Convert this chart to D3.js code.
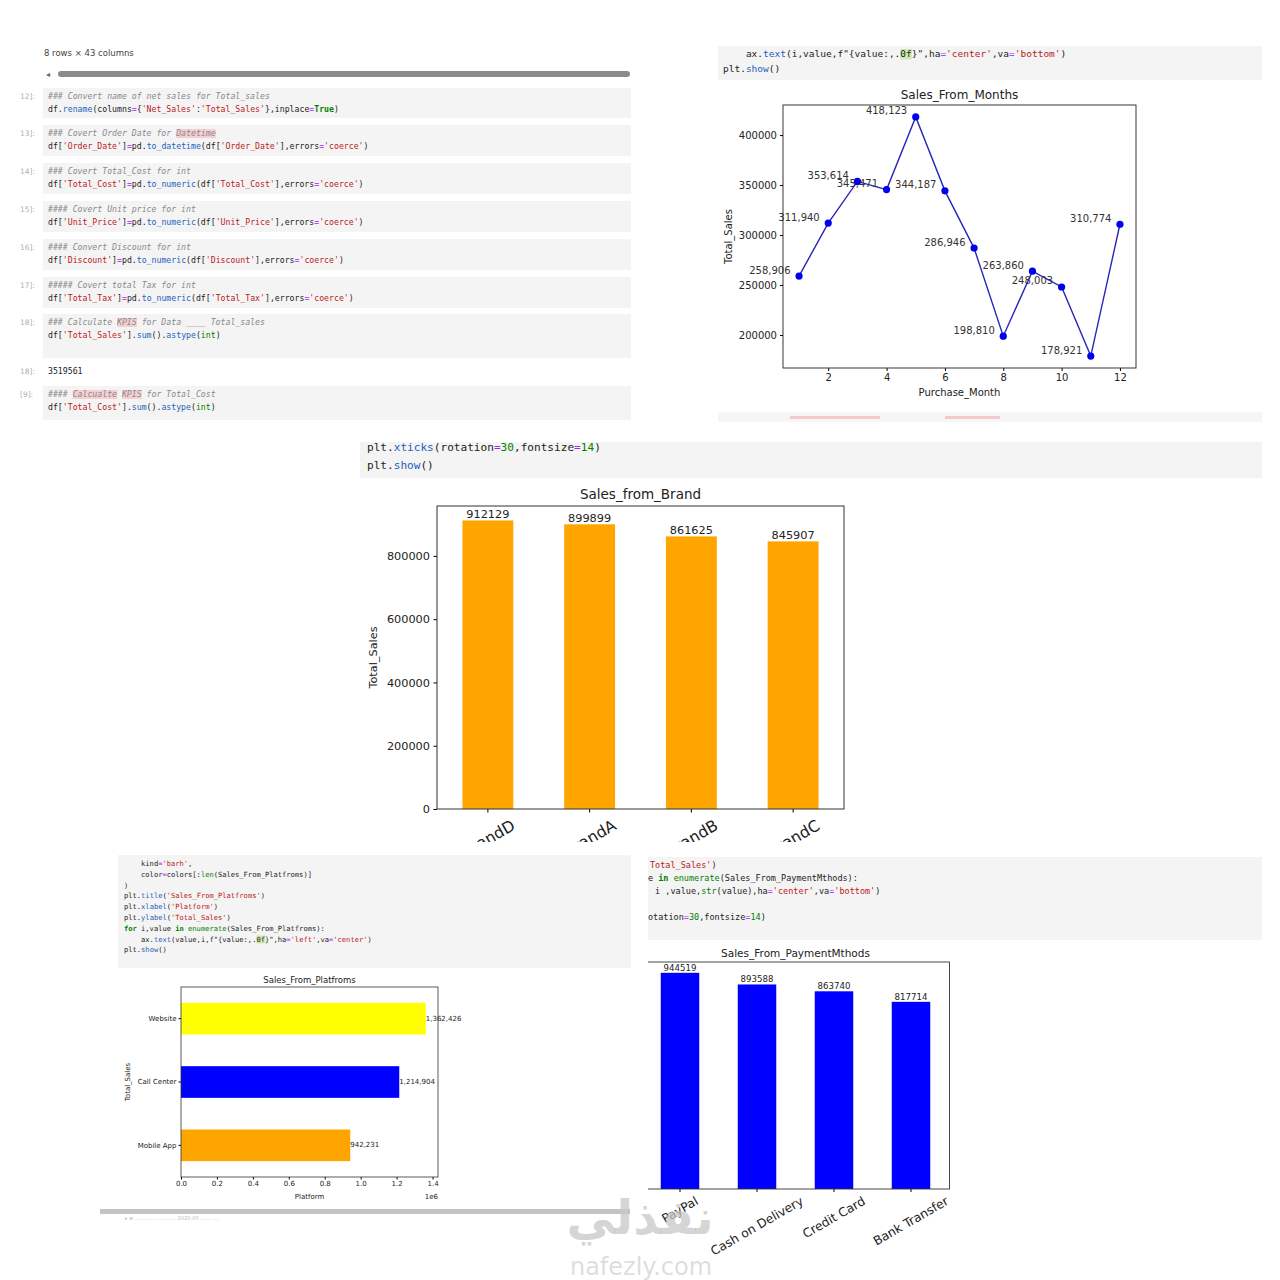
<!DOCTYPE html>
<html>
<head>
<meta charset="utf-8">
<script src="https://cdn.jsdelivr.net/npm/d3@7"></script>
<style>
body { margin: 0; background: #fff; }
text { font-family: "DejaVu Sans", sans-serif; fill: #222; }
.code { font-family: "DejaVu Sans Mono", monospace; white-space: pre; }
</style>
</head>
<body>
<svg width="1280" height="1280"></svg>
<script>
// ---- data ----
const months = [1, 2, 3, 4, 5, 6, 7, 8, 9, 10, 11, 12];
const monthSales = [258906, 311940, 353614, 345471, 418123, 344187, 286946, 198810, 263860, 248003, 178921, 310774];
const monthTicksX = [2, 4, 6, 8, 10, 12];
const monthTicksY = [200000, 250000, 300000, 350000, 400000];

const brands = ['BrandD', 'BrandA', 'BrandB', 'BrandC'];
const brandSales = [912129, 899899, 861625, 845907];
const brandTicksY = [0, 200000, 400000, 600000, 800000];

const platforms = ['Mobile App', 'Call Center', 'Website'];
const platformSales = [942231, 1214904, 1362426];
const platformColors = ['orange', 'blue', 'yellow'];
const platformTicksX = [0, 200000, 400000, 600000, 800000, 1000000, 1200000, 1400000];

const payments = ['PayPal', 'Cash on Delivery', 'Credit Card', 'Bank Transfer'];
const paymentSales = [944519, 893588, 863740, 817714];

const notebookCells = [
    {n: '12]:', y: 88, h: 30, lines: ["### Convert name of net sales for Total_sales", "df.rename(columns={'Net_Sales':'Total_Sales'},inplace=True)"]},
    {n: '13]:', y: 125, h: 31, lines: ["### Covert Order Date for Datetime", "df['Order_Date']=pd.to_datetime(df['Order_Date'],errors='coerce')"], marks: ['Datetime']},
    {n: '14]:', y: 163, h: 31, lines: ["### Covert Total_Cost for int", "df['Total_Cost']=pd.to_numeric(df['Total_Cost'],errors='coerce')"]},
    {n: '15]:', y: 201, h: 31, lines: ["#### Covert Unit price for int", "df['Unit_Price']=pd.to_numeric(df['Unit_Price'],errors='coerce')"]},
    {n: '16]:', y: 239, h: 31, lines: ["#### Convert Discount for int", "df['Discount']=pd.to_numeric(df['Discount'],errors='coerce')"]},
    {n: '17]:', y: 277, h: 31, lines: ["##### Covert total Tax for int", "df['Total_Tax']=pd.to_numeric(df['Total_Tax'],errors='coerce')"]},
    {n: '18]:', y: 314, h: 44, lines: ["### Calculate KPIS for Data ____ Total_sales", "df['Total_Sales'].sum().astype(int)"], marks: ['KPIS']},
    {n: '[9]:', y: 386, h: 34, lines: ["#### Calcualte KPIS for Total_Cost", "df['Total_Cost'].sum().astype(int)"], marks: ['Calcualte', 'KPIS']}
];

const svg = d3.select('svg');
const fmtComma = d3.format(',.0f');

const tokenColors = {plain: '#222', com: '#8a8a8a', str: '#ba2121', kw: '#008000', bi: '#008000', fn: '#1f5fbf', op: '#aa22ff', num: '#008000'};

function tokenize(line) {
    const out = [];
    const re = /(#.*$)|('[^']*')|\b(True|False|for|in)\b|\b(int|str|len|enumerate)\b|(?<=\.)([A-Za-z_]\w*)(?=\()|(=)|\b(\d+)\b/g;
    let last = 0, m;
    while ((m = re.exec(line))) {
        if (m.index > last) out.push([line.slice(last, m.index), 'plain']);
        const kind = m[1] ? 'com' : m[2] ? 'str' : m[3] ? 'kw' : m[4] ? 'bi' : m[5] ? 'fn' : m[6] ? 'op' : 'num';
        out.push([m[0], kind]);
        last = re.lastIndex;
    }
    if (last < line.length) out.push([line.slice(last), 'plain']);
    return out;
}

function codeLine(g, x, y, line, fs, marks) {
    const cw = fs * 0.602;
    (marks || []).forEach(mk => {
        const idx = line.indexOf(mk.word || mk);
        if (idx < 0) return;
        g.append('rect')
            .attr('x', x + idx * cw).attr('y', y - fs * 0.85)
            .attr('width', (mk.word || mk).length * cw).attr('height', fs * 1.1)
            .attr('fill', mk.color || '#f6cfd2');
    });
    const t = g.append('text').classed('code', true)
        .attr('x', x).attr('y', y).attr('font-size', fs);
    const toks = Array.isArray(line) ? line : tokenize(line);
    toks.forEach(([s, k]) => {
        t.append('tspan').text(s)
            .style('fill', tokenColors[k])
            .attr('font-style', k === 'com' ? 'italic' : null)
            .attr('font-weight', k === 'kw' ? 'bold' : null);
    });
}

// ---- top-left notebook ----
const nb = svg.append('g');
nb.append('text').attr('x', 44).attr('y', 56).attr('font-size', 8.5).style('fill', '#444').text('8 rows × 43 columns');
nb.append('text').attr('x', 46).attr('y', 77).attr('font-size', 8).style('fill', '#666').text('◂');
nb.append('rect').attr('x', 58).attr('y', 71).attr('width', 572).attr('height', 6).attr('rx', 3).attr('fill', '#8c8c8c');

notebookCells.forEach(c => {
    nb.append('rect').attr('x', 43).attr('y', c.y).attr('width', 588).attr('height', c.h).attr('fill', '#f4f4f4');
    nb.append('text').attr('x', 20).attr('y', c.y + 11).attr('font-size', 7.5).style('fill', '#b0b0b0').text(c.n);
    c.lines.forEach((l, i) => codeLine(nb, 48, c.y + 11 + i * 12.5, l, 8.2, i === 0 ? c.marks : null));
});
nb.append('text').attr('x', 20).attr('y', 374).attr('font-size', 7.5).style('fill', '#b0b0b0').text('18]:');
nb.append('text').classed('code', true).attr('x', 48).attr('y', 374).attr('font-size', 8.2).text('3519561');

// ---- top-right: Sales_From_Months ----
const lc = svg.append('g');
lc.append('rect').attr('x', 718).attr('y', 46).attr('width', 544).attr('height', 34).attr('fill', '#f4f4f4');
codeLine(lc, 723, 57, "    ax.text(i,value,f\"{value:,.0f}\",ha='center',va='bottom')", 9.5, [{word: '0f', color: '#cfe8b0'}]);
codeLine(lc, 723, 72, "plt.show()", 9.5);
lc.append('rect').attr('x', 718).attr('y', 412).attr('width', 544).attr('height', 10).attr('fill', '#f6f6f6');
lc.append('rect').attr('x', 790).attr('y', 416).attr('width', 90).attr('height', 3).attr('fill', '#f3c9cc');
lc.append('rect').attr('x', 945).attr('y', 416).attr('width', 55).attr('height', 3).attr('fill', '#f3c9cc');

const lcBox = {l: 783, r: 1136, t: 105, b: 368};
const mPad = (d3.max(monthSales) - d3.min(monthSales)) * 0.05;
const xM = d3.scaleLinear().domain([1 - 0.55, 12 + 0.55]).range([lcBox.l, lcBox.r]);
const yM = d3.scaleLinear().domain([d3.min(monthSales) - mPad, d3.max(monthSales) + mPad]).range([lcBox.b, lcBox.t]);

lc.append('g').attr('transform', `translate(0,${lcBox.b})`)
    .call(d3.axisBottom(xM).tickValues(monthTicksX).tickSize(3).tickPadding(3))
    .call(g => g.select('.domain').remove())
    .attr('font-family', 'DejaVu Sans').attr('font-size', 10);
lc.append('g').attr('transform', `translate(${lcBox.l},0)`)
    .call(d3.axisLeft(yM).tickValues(monthTicksY).tickSize(3).tickPadding(3).tickFormat(d => d))
    .call(g => g.select('.domain').remove())
    .attr('font-family', 'DejaVu Sans').attr('font-size', 10);

lc.append('path').datum(months)
    .attr('fill', 'none').attr('stroke', '#2626b8').attr('stroke-width', 1.4)
    .attr('d', d3.line().x(d => xM(d)).y((d, i) => yM(monthSales[i])));
lc.selectAll('circle.pt').data(months).join('circle').attr('class', 'pt')
    .attr('cx', d => xM(d)).attr('cy', (d, i) => yM(monthSales[i])).attr('r', 3.6).attr('fill', '#0000ee');
// labels sit at the 0-based index, as in the notebook
lc.selectAll('text.val').data(monthSales).join('text').attr('class', 'val')
    .attr('x', (d, i) => xM(i)).attr('y', d => yM(d) - 2.5)
    .attr('text-anchor', 'middle').attr('font-size', 10).style('fill', '#333')
    .text(d => fmtComma(d));
lc.append('rect').attr('x', lcBox.l).attr('y', lcBox.t).attr('width', lcBox.r - lcBox.l).attr('height', lcBox.b - lcBox.t)
    .attr('fill', 'none').attr('stroke', '#222').attr('stroke-width', 0.9);
lc.append('text').attr('x', (lcBox.l + lcBox.r) / 2).attr('y', 99).attr('text-anchor', 'middle').attr('font-size', 12).text('Sales_From_Months');
lc.append('text').attr('x', (lcBox.l + lcBox.r) / 2).attr('y', 396).attr('text-anchor', 'middle').attr('font-size', 10).text('Purchase_Month');
lc.append('text').attr('transform', `translate(732,${(lcBox.t + lcBox.b) / 2}) rotate(-90)`).attr('text-anchor', 'middle').attr('font-size', 10).text('Total_Sales');

// rotated tick labels, matplotlib style (rotation 30, centred box)
function rotLabels(g, scale, cats, y0, fs) {
    cats.forEach(c => {
        const t = g.append('text').text(c).attr('font-size', fs)
            .attr('text-anchor', 'middle').attr('dominant-baseline', 'central');
        const w = t.node().getComputedTextLength();
        const bh = w * 0.5 + fs * 1.15 * 0.866;
        const cx = scale(c) + scale.bandwidth() / 2;
        t.attr('transform', `translate(${cx},${y0 + bh / 2}) rotate(-30)`);
    });
}

// ---- middle: Sales_from_Brand ----
const defs = svg.append('defs');
defs.append('clipPath').attr('id', 'clipBrand').append('rect').attr('x', 355).attr('y', 442).attr('width', 910).attr('height', 400);
defs.append('clipPath').attr('id', 'clipPay').append('rect').attr('x', 648).attr('y', 855).attr('width', 617).attr('height', 420);

const bc = svg.append('g').attr('clip-path', 'url(#clipBrand)');
bc.append('rect').attr('x', 360).attr('y', 441).attr('width', 902).attr('height', 37).attr('fill', '#f4f4f4');
codeLine(bc, 367, 451, "plt.xticks(rotation=30,fontsize=14)", 11.1);
codeLine(bc, 367, 469, "plt.show()", 11.1);

const bcBox = {l: 437, r: 844, t: 506, b: 809};
const xB = d3.scaleBand().domain(brands).range([bcBox.l, bcBox.r]).paddingInner(0.5).paddingOuter(0.25);
const yB = d3.scaleLinear().domain([0, d3.max(brandSales) * 1.05]).range([bcBox.b, bcBox.t]);

bc.selectAll('rect.bar').data(brands).join('rect').attr('class', 'bar')
    .attr('x', d => xB(d)).attr('width', xB.bandwidth())
    .attr('y', (d, i) => yB(brandSales[i])).attr('height', (d, i) => bcBox.b - yB(brandSales[i]))
    .attr('fill', 'orange');
bc.selectAll('text.val').data(brandSales).join('text').attr('class', 'val')
    .attr('x', (d, i) => xB(brands[i]) + xB.bandwidth() / 2).attr('y', d => yB(d) - 2.5)
    .attr('text-anchor', 'middle').attr('font-size', 11.3).text(d => d);
bc.append('g').attr('transform', `translate(${bcBox.l},0)`)
    .call(d3.axisLeft(yB).tickValues(brandTicksY).tickSize(3.5).tickPadding(3.5).tickFormat(d => d))
    .call(g => g.select('.domain').remove())
    .attr('font-family', 'DejaVu Sans').attr('font-size', 11.3);
bc.append('g').attr('transform', `translate(0,${bcBox.b})`)
    .call(d3.axisBottom(xB).tickSize(3.5).tickFormat(''))
    .call(g => g.select('.domain').remove());
rotLabels(bc, xB, brands, bcBox.b + 7, 15.8);
bc.append('rect').attr('x', bcBox.l).attr('y', bcBox.t).attr('width', bcBox.r - bcBox.l).attr('height', bcBox.b - bcBox.t)
    .attr('fill', 'none').attr('stroke', '#333').attr('stroke-width', 1);
bc.append('text').attr('x', (bcBox.l + bcBox.r) / 2).attr('y', 499).attr('text-anchor', 'middle').attr('font-size', 13.5).text('Sales_from_Brand');
bc.append('text').attr('transform', `translate(377,${(bcBox.t + bcBox.b) / 2}) rotate(-90)`).attr('text-anchor', 'middle').attr('font-size', 11.3).text('Total_Sales');

// ---- bottom-left: Sales_From_Platfroms ----
const pc = svg.append('g');
pc.append('rect').attr('x', 118).attr('y', 855).attr('width', 513).attr('height', 113).attr('fill', '#f4f4f4');
const platCode = [
    "    kind='barh',",
    "    color=colors[:len(Sales_From_Platfroms)]",
    ")",
    "plt.title('Sales_From_Platfroms')",
    "plt.xlabel('Platform')",
    "plt.ylabel('Total_Sales')",
    "for i,value in enumerate(Sales_From_Platfroms):",
    "    ax.text(value,i,f\"{value:,.0f}\",ha='left',va='center')",
    "plt.show()"
];
platCode.forEach((l, i) => codeLine(pc, 124, 866 + i * 10.8, l, 7.1, i === 7 ? [{word: '0f', color: '#cfe8b0'}] : null));

const pcBox = {l: 181, r: 438, t: 987, b: 1177};
const yP = d3.scaleBand().domain(platforms).range([pcBox.b, pcBox.t]).paddingInner(0.5).paddingOuter(0.25);
const xP = d3.scaleLinear().domain([0, d3.max(platformSales) * 1.05]).range([pcBox.l, pcBox.r]);

pc.selectAll('rect.bar').data(platforms).join('rect').attr('class', 'bar')
    .attr('y', d => yP(d)).attr('height', yP.bandwidth())
    .attr('x', pcBox.l).attr('width', (d, i) => xP(platformSales[i]) - pcBox.l)
    .attr('fill', (d, i) => platformColors[i]);
pc.selectAll('text.val').data(platformSales).join('text').attr('class', 'val')
    .attr('x', d => xP(d)).attr('y', (d, i) => yP(platforms[i]) + yP.bandwidth() / 2)
    .attr('dominant-baseline', 'central').attr('font-size', 7).text(d => fmtComma(d));
pc.append('g').attr('transform', `translate(0,${pcBox.b})`)
    .call(d3.axisBottom(xP).tickValues(platformTicksX).tickSize(2.5).tickPadding(2).tickFormat(d => d3.format('.1f')(d / 1e6)))
    .call(g => g.select('.domain').remove())
    .attr('font-family', 'DejaVu Sans').attr('font-size', 7);
pc.append('g').attr('transform', `translate(${pcBox.l},0)`)
    .call(d3.axisLeft(yP).tickSize(2.5).tickPadding(2))
    .call(g => g.select('.domain').remove())
    .attr('font-family', 'DejaVu Sans').attr('font-size', 7);
pc.append('rect').attr('x', pcBox.l).attr('y', pcBox.t).attr('width', pcBox.r - pcBox.l).attr('height', pcBox.b - pcBox.t)
    .attr('fill', 'none').attr('stroke', '#333').attr('stroke-width', 0.8);
pc.append('text').attr('x', (pcBox.l + pcBox.r) / 2).attr('y', 983).attr('text-anchor', 'middle').attr('font-size', 8.5).text('Sales_From_Platfroms');
pc.append('text').attr('x', (pcBox.l + pcBox.r) / 2).attr('y', 1199).attr('text-anchor', 'middle').attr('font-size', 7).text('Platform');
pc.append('text').attr('x', pcBox.r).attr('y', 1199).attr('text-anchor', 'end').attr('font-size', 7).text('1e6');
pc.append('text').attr('transform', `translate(130,${(pcBox.t + pcBox.b) / 2}) rotate(-90)`).attr('text-anchor', 'middle').attr('font-size', 7).text('Total_Sales');
pc.append('rect').attr('x', 100).attr('y', 1209).attr('width', 530).attr('height', 5).attr('fill', '#c4c4c4');
pc.append('text').attr('x', 125).attr('y', 1220).attr('font-size', 5).style('fill', '#bbb').text('▸  ⊕       ...............   ..........  2025-05  .......  ....');

// ---- bottom-right: Sales_From_PaymentMthods ----
const qc = svg.append('g').attr('clip-path', 'url(#clipPay)');
qc.append('rect').attr('x', 648).attr('y', 857).attr('width', 614).attr('height', 83).attr('fill', '#f4f4f4');
codeLine(qc, 650, 868, [["Total_Sales'", 'str'], [")", 'plain']], 8.5);
codeLine(qc, 648, 881, "e in enumerate(Sales_From_PaymentMthods):", 8.5);
codeLine(qc, 650, 894, " i ,value,str(value),ha='center',va='bottom')", 8.5);
codeLine(qc, 648, 920, [["otation", 'plain'], ["=", 'op'], ["30", 'num'], [",fontsize", 'plain'], ["=", 'op'], ["14", 'num'], [")", 'plain']], 8.5);

const qcBox = {l: 641.5, r: 949.5, t: 962, b: 1189};
const xQ = d3.scaleBand().domain(payments).range([qcBox.l, qcBox.r]).paddingInner(0.5).paddingOuter(0.25);
const yQ = d3.scaleLinear().domain([0, d3.max(paymentSales) * 1.05]).range([qcBox.b, qcBox.t]);

qc.selectAll('rect.bar').data(payments).join('rect').attr('class', 'bar')
    .attr('x', d => xQ(d)).attr('width', xQ.bandwidth())
    .attr('y', (d, i) => yQ(paymentSales[i])).attr('height', (d, i) => qcBox.b - yQ(paymentSales[i]))
    .attr('fill', 'blue');
qc.selectAll('text.val').data(paymentSales).join('text').attr('class', 'val')
    .attr('x', (d, i) => xQ(payments[i]) + xQ.bandwidth() / 2).attr('y', d => yQ(d) - 2)
    .attr('text-anchor', 'middle').attr('font-size', 8.6).text(d => d);
qc.append('g').attr('transform', `translate(0,${qcBox.b})`)
    .call(d3.axisBottom(xQ).tickSize(3).tickFormat(''))
    .call(g => g.select('.domain').remove());
rotLabels(qc, xQ, payments, qcBox.b + 5, 12.3);
qc.append('rect').attr('x', qcBox.l).attr('y', qcBox.t).attr('width', qcBox.r - qcBox.l).attr('height', qcBox.b - qcBox.t)
    .attr('fill', 'none').attr('stroke', '#333').attr('stroke-width', 0.9);
qc.append('text').attr('x', (qcBox.l + qcBox.r) / 2).attr('y', 957).attr('text-anchor', 'middle').attr('font-size', 10.5).text('Sales_From_PaymentMthods');

// ---- watermark ----
const wm = svg.append('g').style('pointer-events', 'none');
wm.append('text').attr('x', 640).attr('y', 1234).attr('text-anchor', 'middle')
    .attr('font-size', 48).attr('font-weight', 'bold').style('fill', '#c8c8c8').style('fill-opacity', 0.75).text('نفذلي');
wm.append('text').attr('x', 641).attr('y', 1275).attr('text-anchor', 'middle')
    .attr('font-family', 'Lato').attr('font-size', 24).style('fill', '#d6d6d6').style('fill-opacity', 0.8).text('nafezly.com');
</script>
</body>
</html>
